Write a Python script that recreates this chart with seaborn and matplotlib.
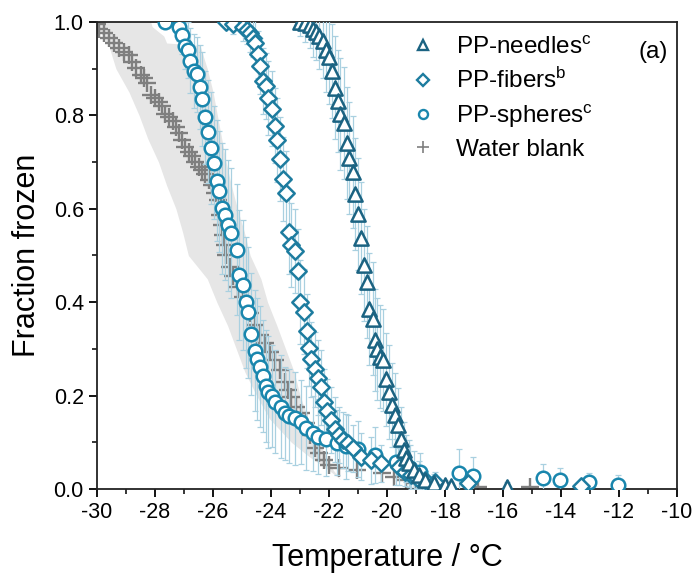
import matplotlib
matplotlib.use("Agg")
import matplotlib.pyplot as plt
import seaborn as sns
import numpy as np
import pandas as pd
from matplotlib.ticker import MultipleLocator
from matplotlib.lines import Line2D

# ---------------- data ----------------
needles_T = [-23.01, -22.84, -22.67, -22.56, -22.44, -22.33, -22.21, -22.10, -21.99, -21.89,
             -21.78, -21.69, -21.61, -21.50, -21.38, -21.30, -21.19, -21.10, -20.99, -20.89,
             -20.79, -20.70, -20.62, -20.50, -20.41, -20.33, -20.24, -20.14, -20.02, -19.93,
             -19.82, -19.73, -19.62, -19.51, -19.42, -19.34, -19.25, -19.08, -18.90, -18.68,
             -18.39, -17.99, -17.80, -15.85]
needles_F = [1.0, 0.997, 0.994, 0.986, 0.979, 0.969, 0.959, 0.941, 0.924, 0.895,
             0.859, 0.831, 0.802, 0.783, 0.740, 0.708, 0.678, 0.632, 0.588, 0.537,
             0.480, 0.443, 0.385, 0.365, 0.319, 0.300, 0.283, 0.276, 0.235, 0.208,
             0.180, 0.158, 0.137, 0.106, 0.084, 0.066, 0.055, 0.041, 0.030, 0.019,
             0.012, 0.009, 0.006, 0.004]
needles_err = [0.03, 0.04, 0.05, 0.06, 0.06, 0.07, 0.08, 0.09, 0.10, 0.10,
               0.11, 0.11, 0.12, 0.12, 0.12, 0.12, 0.12, 0.12, 0.12, 0.12,
               0.12, 0.12, 0.12, 0.12, 0.11, 0.11, 0.11, 0.11, 0.10, 0.10,
               0.09, 0.09, 0.08, 0.07, 0.06, 0.05, 0.05, 0.04, 0.03, 0.02,
               0.02, 0.01, 0.01, 0.01]

fibers_T = [-25.55, -25.30, -24.98, -24.84, -24.73, -24.63, -24.55, -24.46, -24.38, -24.29,
            -24.18, -24.10, -23.98, -23.87, -23.78, -23.70, -23.59, -23.49, -23.38, -23.30,
            -23.18, -23.07, -23.01, -22.88, -22.76, -22.69, -22.61, -22.50, -22.39, -22.27,
            -22.16, -22.08, -21.93, -21.78, -21.64, -21.51, -21.36, -21.19, -20.90, -20.56,
            -20.21, -19.59, -19.38, -19.19, -18.96, -18.68, -18.33, -17.22, -13.31]
fibers_F = [1.0, 0.995, 0.990, 0.983, 0.976, 0.965, 0.954, 0.931, 0.906, 0.874,
            0.863, 0.837, 0.814, 0.778, 0.747, 0.707, 0.663, 0.633, 0.551, 0.522,
            0.510, 0.467, 0.401, 0.380, 0.338, 0.301, 0.278, 0.256, 0.238, 0.218,
            0.187, 0.166, 0.148, 0.128, 0.116, 0.105, 0.098, 0.087, 0.069, 0.061,
            0.055, 0.048, 0.037, 0.030, 0.023, 0.019, 0.016, 0.012, 0.006]
fibers_err = [0.01, 0.02, 0.03, 0.03, 0.04, 0.04, 0.05, 0.05, 0.06, 0.07,
              0.07, 0.08, 0.08, 0.08, 0.09, 0.09, 0.09, 0.09, 0.09, 0.09,
              0.09, 0.09, 0.09, 0.09, 0.08, 0.08, 0.08, 0.08, 0.08, 0.08,
              0.07, 0.07, 0.07, 0.07, 0.06, 0.06, 0.06, 0.05, 0.05, 0.05,
              0.04, 0.04, 0.03, 0.03, 0.02, 0.02, 0.02, 0.01, 0.01]

spheres_T = [-27.66, -27.16, -27.07, -26.98, -26.86, -26.78, -26.67, -26.55, -26.46, -26.38,
             -26.29, -26.18, -26.07, -25.98, -25.87, -25.78, -25.70, -25.58, -25.47, -25.38,
             -25.18, -25.09, -24.95, -24.87, -24.78, -24.69, -24.55, -24.48, -24.38, -24.27,
             -24.18, -24.10, -23.98, -23.87, -23.66, -23.53, -23.38, -23.18, -22.96, -22.78,
             -22.56, -22.39, -22.10, -21.74, -21.42, -21.00, -20.40, -19.70, -19.20, -18.85,
             -17.51, -17.02, -14.62, -14.02, -13.02, -12.03]
spheres_F = [0.999, 0.989, 0.972, 0.949, 0.940, 0.917, 0.895, 0.888, 0.861, 0.835,
             0.796, 0.765, 0.731, 0.699, 0.660, 0.637, 0.601, 0.587, 0.565, 0.548,
             0.512, 0.458, 0.437, 0.400, 0.378, 0.332, 0.296, 0.278, 0.262, 0.242,
             0.221, 0.208, 0.199, 0.187, 0.176, 0.162, 0.156, 0.151, 0.144, 0.130,
             0.119, 0.112, 0.107, 0.099, 0.091, 0.085, 0.072, 0.058, 0.045, 0.037,
             0.035, 0.028, 0.023, 0.019, 0.014, 0.009]
spheres_err = [0.0, 0.03, 0.04, 0.05, 0.06, 0.07, 0.08, 0.08, 0.09, 0.10,
               0.10, 0.11, 0.12, 0.12, 0.13, 0.13, 0.14, 0.14, 0.14, 0.14,
               0.14, 0.14, 0.14, 0.14, 0.14, 0.13, 0.13, 0.13, 0.13, 0.12,
               0.12, 0.12, 0.11, 0.11, 0.11, 0.10, 0.10, 0.10, 0.09, 0.09,
               0.08, 0.08, 0.08, 0.07, 0.07, 0.06, 0.06, 0.05, 0.05, 0.04,
               0.05, 0.04, 0.03, 0.025, 0.02, 0.02]

water_T = [-30.00, -29.92, -29.75, -29.58, -29.41, -29.24, -29.07, -28.89, -28.78, -28.66, -28.49,
           -28.38, -28.26, -28.15, -28.00, -27.87, -27.75, -27.64, -27.52, -27.39, -27.29,
           -27.18, -27.07, -26.95, -26.84, -26.72, -26.61, -26.50, -26.38, -26.27, -26.15,
           -26.04, -25.92, -25.83, -25.75, -25.70, -25.64, -25.58, -25.56, -25.41, -25.30,
           -25.13, -24.96, -24.73, -24.55, -24.38, -24.21, -24.04, -23.87, -23.70, -23.53,
           -23.41, -23.30, -23.13, -22.96, -22.78, -22.67, -22.50, -22.33, -22.16, -21.99,
           -21.64, -21.02, -20.16, -19.76, -19.36, -19.02, -18.50, -16.85, -15.08]
water_F = [0.995, 0.986, 0.976, 0.966, 0.954, 0.944, 0.936, 0.929, 0.915, 0.901, 0.887,
           0.879, 0.869, 0.844, 0.837, 0.828, 0.819, 0.804, 0.797, 0.787, 0.776,
           0.762, 0.747, 0.733, 0.722, 0.712, 0.701, 0.690, 0.683, 0.674, 0.662,
           0.651, 0.633, 0.619, 0.587, 0.565, 0.544, 0.522, 0.501, 0.476, 0.455,
           0.433, 0.412, 0.376, 0.351, 0.330, 0.312, 0.294, 0.276, 0.255, 0.230,
           0.212, 0.198, 0.176, 0.162, 0.141, 0.116, 0.087, 0.076, 0.062, 0.051,
           0.044, 0.041, 0.034, 0.026, 0.019, 0.012, 0.006, 0.004, 0.004]

# grey envelope of the water blank
band_F = [1.0, 0.99, 0.97, 0.955, 0.95, 0.92, 0.90, 0.85, 0.80, 0.75, 0.70, 0.65, 0.60,
          0.55, 0.50, 0.45, 0.40, 0.35, 0.30, 0.25, 0.20, 0.15, 0.10, 0.07, 0.04, 0.02, 0.01]
band_lo = [-30.0, -30.0, -29.8, -29.65, -29.6, -29.45, -29.35, -28.9, -28.55, -28.25, -27.88,
           -27.6, -27.28, -27.05, -26.85, -26.2, -25.87, -25.5, -25.2, -24.9, -24.5, -24.05,
           -23.3, -22.7, -22.0, -21.6, -21.4]
band_hi = [-28.15, -28.1, -27.7, -27.6, -26.45, -26.3, -26.2, -26.0, -25.85, -25.7, -25.55,
           -25.37, -25.16, -24.92, -24.72, -24.35, -24.12, -23.8, -23.5, -23.2, -23.0, -22.72,
           -22.35, -22.1, -21.85, -21.6, -21.4]

x_ticks = [-30, -28, -26, -24, -22, -20, -18, -16, -14, -12, -10]
y_ticks = [0.0, 0.2, 0.4, 0.6, 0.8, 1.0]

labels = ["PP-needles$^{\\mathrm{c}}$", "PP-fibers$^{\\mathrm{b}}$",
          "PP-spheres$^{\\mathrm{c}}$", "Water blank"]

# ---------------- style ----------------
sns.set_style("ticks")
plt.rcParams["font.family"] = ["Liberation Sans", "DejaVu Sans"]
plt.rcParams["mathtext.fontset"] = "custom"
plt.rcParams["mathtext.rm"] = "Liberation Sans"
plt.rcParams["mathtext.it"] = "Liberation Sans:italic"
plt.rcParams["axes.linewidth"] = 1.3
for k in ["text.color", "axes.labelcolor", "xtick.color", "ytick.color", "axes.edgecolor"]:
    plt.rcParams[k] = "black"

c_needles = "#1b6382"
c_fibers = "#1d7c9f"
c_spheres = "#1986ad"
c_err = "#a9d0e0"
c_water = "#7f7f7f"
c_band = "#e6e6e6"

fig = plt.figure(figsize=(6.98, 5.78), dpi=100)
ax = fig.add_axes([0.139, 0.154, 0.831, 0.808])

ax.fill_betweenx(band_F, band_lo, band_hi, color=c_band, lw=0, zorder=1)

df_w = pd.DataFrame({"T": water_T, "F": water_F})
sns.scatterplot(data=df_w, x="T", y="F", ax=ax, marker="+", s=150, color=c_water,
                linewidth=1.7, zorder=2, legend=False)

for T, F, E in [(spheres_T, spheres_F, spheres_err), (fibers_T, fibers_F, fibers_err),
                (needles_T, needles_F, needles_err)]:
    ax.errorbar(T, F, yerr=E, fmt="none", ecolor=c_err, elinewidth=0.9,
                capsize=2.2, capthick=0.9, zorder=3)

series = [(spheres_T, spheres_F, "o", c_spheres, 95, labels[2]),
          (fibers_T, fibers_F, "D", c_fibers, 70, labels[1]),
          (needles_T, needles_F, "^", c_needles, 105, labels[0])]
for T, F, m, c, s, lab in series:
    d = pd.DataFrame({"T": T, "F": F})
    sns.scatterplot(data=d, x="T", y="F", ax=ax, marker=m, s=s, facecolor="white",
                    edgecolor=c, linewidth=1.8, zorder=4, legend=False)

ax.set_xlim(-30, -10)
ax.set_ylim(0, 1.0)
ax.set_xticks(x_ticks)
ax.set_xticklabels([str(t) for t in x_ticks])
ax.set_yticks(y_ticks)
ax.set_yticklabels([f"{t:.1f}" for t in y_ticks])
ax.xaxis.set_minor_locator(MultipleLocator(1))
ax.yaxis.set_minor_locator(MultipleLocator(0.1))
ax.tick_params(axis="both", which="major", direction="out", length=6, width=1.3,
               labelsize=15.5, top=False, right=False)
ax.tick_params(axis="both", which="minor", direction="out", length=3.5, width=1.1,
               top=False, right=False)
for sp in ax.spines.values():
    sp.set_visible(True)
    sp.set_color("#222222")

ax.set_xlabel("Temperature / °C", fontsize=22, labelpad=14)
ax.set_ylabel("Fraction frozen", fontsize=22, labelpad=8)

handles = [
    Line2D([], [], ls="none", marker="^", ms=7.5, mfc="white", mec=c_needles, mew=1.7),
    Line2D([], [], ls="none", marker="D", ms=6.0, mfc="white", mec=c_fibers, mew=1.7),
    Line2D([], [], ls="none", marker="o", ms=6.5, mfc="white", mec=c_spheres, mew=1.7),
    Line2D([], [], ls="none", marker="+", ms=9, color=c_water, mew=1.2),
]
ax.legend(handles, labels, loc="upper left", bbox_to_anchor=(0.5, 1.005), frameon=False,
          fontsize=17.5, handletextpad=0.55, labelspacing=0.38, handlelength=1.6,
          borderaxespad=0.3)
ax.text(0.985, 0.96, "(a)", transform=ax.transAxes, ha="right", va="top", fontsize=17.5)

fig.savefig("out.png", dpi=100)
